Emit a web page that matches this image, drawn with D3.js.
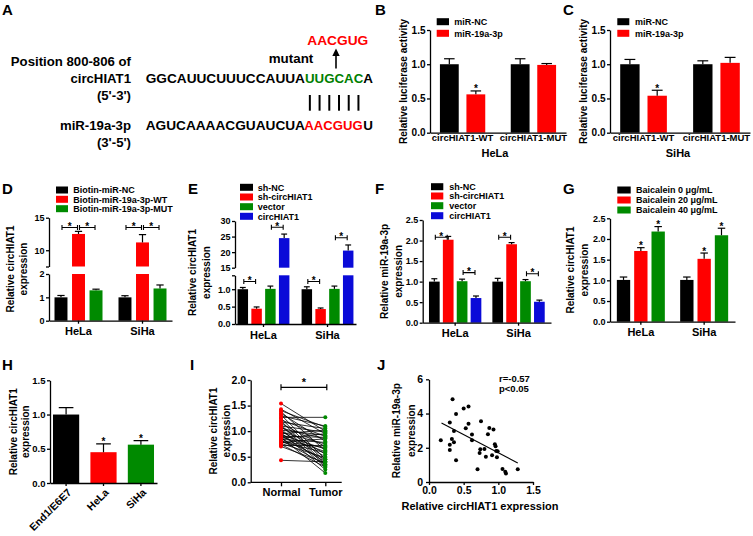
<!DOCTYPE html>
<html>
<head>
<meta charset="utf-8">
<script src="https://cdn.jsdelivr.net/npm/d3@7"></script>
<style>
body { margin: 0; background: #fff; }
svg { display: block; font-family: Arial, "Liberation Sans", sans-serif; font-weight: bold; }
</style>
</head>
<body>
<svg id="fig" width="753" height="536"></svg>
<script>
// ---- data ----
// A: binding site
var siteLabels = ["Position 800-806 of", "circHIAT1", "(5'-3')", "miR-19a-3p", "(3'-5')"];
var seqTop = ["GGCAUUCUUUCCAUUA", "UUGCAC", "A"];
var seqBottom = ["AGUCAAAACGUAUCUA", "AACGUG", "U"];
var mutSeq = "AACGUG";

// B, C: luciferase
var lucGroups = ["circHIAT1-WT", "circHIAT1-MUT"];
var lucSeries = ["miR-NC", "miR-19a-3p"];
var lucHela = [[1.00, 0.56], [1.00, 0.99]];
var lucHelaErr = [[0.08, 0.05], [0.08, 0.02]];
var lucSiha = [[1.00, 0.54], [1.00, 1.02]];
var lucSihaErr = [[0.07, 0.08], [0.05, 0.08]];
var lucTicks = [0, 0.5, 1.0, 1.5];
var lucStars = [[0, 1]];

// D: biotin pull-down
var cellLines = ["HeLa", "SiHa"];
var biotinSeries = ["Biotin-miR-NC", "Biotin-miR-19a-3p-WT", "Biotin-miR-19a-3p-MUT"];
var biotinVals = [[1.00, 12.5, 1.30], [1.00, 11.2, 1.38]];
var biotinErr = [[0.08, 0.4, 0.05], [0.07, 1.2, 0.15]];
var biotinTicksLow = [0, 1, 2];
var biotinTicksHigh = [10, 15];
var biotinBrackets = [[0, 0, 1, 13.5], [0, 1, 2, 13.5], [1, 0, 1, 13.5], [1, 1, 2, 13.5]];

// E: circHIAT1 knockdown / overexpression
var shSeries = ["sh-NC", "sh-circHIAT1", "vector", "circHIAT1"];
var circVals = [[1.00, 0.44, 1.01, 24.5], [1.00, 0.43, 1.01, 20.5]];
var circErr = [[0.05, 0.05, 0.08, 1.3], [0.07, 0.03, 0.08, 1.8]];
var circTicksLow = [0, 0.5, 1.0];
var circTicksHigh = [15, 20, 25, 30];
var circBrackets = [[0, 0, 1, 1.22], [0, 2, 3, 28], [1, 0, 1, 1.22], [1, 2, 3, 24.6]];

// F: miR-19a-3p
var mirVals = [[1.00, 2.02, 1.01, 0.60], [1.00, 1.91, 1.01, 0.51]];
var mirErr = [[0.07, 0.08, 0.05, 0.05], [0.08, 0.04, 0.04, 0.04]];
var mirTicks = [0, 0.5, 1.0, 1.5, 2.0, 2.5];
var mirBrackets = [[0, 0, 1, 2.08], [0, 2, 3, 1.22], [1, 0, 1, 2.08], [1, 2, 3, 1.19]];

// G: baicalein
var baiSeries = ["Baicalein 0 \u03bcg/mL", "Baicalein 20 \u03bcg/mL", "Baicalein 40 \u03bcg/mL"];
var baiVals = [[1.01, 1.71, 2.18], [1.01, 1.52, 2.09]];
var baiErr = [[0.07, 0.08, 0.12], [0.07, 0.14, 0.17]];
var baiTicks = [0, 0.5, 1.0, 1.5, 2.0, 2.5];
var baiStars = [[0, 1], [0, 2], [1, 1], [1, 2]];

// H: cell lines
var hCells = ["End1/E6E7", "HeLa", "SiHa"];
var hVals = [1.00, 0.45, 0.56];
var hErr = [0.10, 0.12, 0.06];
var hTicks = [0, 0.5, 1.0, 1.5];

// I: paired tissues
var tissue = ["Normal", "Tumor"];
var normalVals = [1.54, 1.43, 1.40, 1.38, 1.35, 1.32, 1.30, 1.27, 1.25, 1.22, 1.20, 1.18, 1.15, 1.12, 1.10,
  1.08, 1.06, 1.04, 1.02, 1.00, 0.98, 0.97, 0.95, 0.93, 0.92, 0.90, 0.89, 0.88, 0.86, 0.85,
  0.84, 0.82, 0.80, 0.79, 0.78, 0.76, 0.74, 0.72, 0.70, 0.43];
var tumorVals = [1.00, 0.95, 1.08, 0.62, 0.80, 0.45, 1.10, 1.27, 0.40, 0.90, 0.35, 1.05, 0.70, 0.33, 0.98,
  0.55, 0.85, 0.30, 0.92, 0.50, 0.75, 0.25, 1.02, 0.65, 0.40, 0.88, 0.60, 0.18, 0.95, 0.45,
  0.78, 0.35, 0.68, 0.58, 0.85, 0.48, 0.30, 0.72, 0.38, 0.40];
var iTicks = [0, 0.5, 1.0, 1.5, 2.0];

// J: correlation
var jX = [0.17, 0.30, 0.34, 0.39, 0.30, 0.30, 0.33, 0.36, 0.36, 0.39, 0.50, 0.57, 0.53, 0.57, 0.62, 0.62, 0.70, 0.75,
  0.73, 0.74, 0.80, 0.82, 0.85, 0.87, 0.91, 0.93, 0.95, 0.96, 0.97, 0.99, 0.98, 1.06, 1.10, 1.11, 1.28];
var jY = [2.44, 3.47, 4.83, 3.98, 2.18, 1.87, 2.51, 2.32, 2.98, 1.27, 4.29, 4.41, 3.14, 3.41, 2.77, 2.44, 0.74, 3.55,
  1.70, 1.91, 1.93, 1.48, 2.79, 3.16, 1.56, 3.06, 2.20, 2.09, 1.81, 1.80, 1.44, 0.76, 0.60, 0.49, 0.74];
var jFit = [[0.18, 3.45], [1.28, 1.11]];
var jXTicks = [0, 0.5, 1.0, 1.5];
var jYTicks = [0, 2, 4, 6];

// ---- drawing ----
var svg = d3.select("#fig");
var FONT = "Arial, 'Liberation Sans', sans-serif";
var RED = "#ff0000", GREEN = "#008a00", BLUE = "#0a0ad8", BLACK = "#000";
var f1 = d3.format(".1f");

function styleAxis(g, fs) {
  g.attr("font-family", FONT).attr("font-size", fs).attr("font-weight", "bold");
  g.selectAll("path, line").attr("stroke", "#000").attr("stroke-width", 1.3);
  g.selectAll("text").attr("fill", "#000");
}

function txt(x, y, s, fs, anchor, fill) {
  return svg.append("text").attr("x", x).attr("y", y).attr("font-size", fs)
    .attr("text-anchor", anchor || "start").attr("fill", fill || BLACK).text(s);
}

// rotated y label, one or two lines; xs are the column centres
function yLabel(lines, xs, cy, fs) {
  lines.forEach(function(l, i) {
    svg.append("text").attr("transform", "translate(" + (xs[i] + fs * 0.36) + "," + cy + ") rotate(-90)")
      .attr("text-anchor", "middle").attr("font-size", fs).text(l);
  });
}

function star(x, y, fs) {
  txt(x, y, "*", fs || 10, "middle");
}

function barPanel(o) {
  var g = svg.append("g");
  var x0 = d3.scaleBand().domain(o.groups).range(o.xRange)
    .paddingInner(o.pi0).paddingOuter(o.po0);
  var x1 = d3.scaleBand().domain(d3.range(o.series.length)).range([0, x0.bandwidth()])
    .paddingInner(o.pi1);
  var segs = o.segments.map(function(s) {
    return { domain: s.domain, ticks: s.ticks, y: d3.scaleLinear().domain(s.domain).range(s.range) };
  });
  function yOf(v) {
    for (var i = segs.length - 1; i >= 0; i--) if (v >= segs[i].domain[0]) return segs[i].y(v);
    return segs[0].y(v);
  }
  function cx(gi, si) { return x0(o.groups[gi]) + x1(si) + x1.bandwidth() / 2; }

  // bar pieces (one per axis segment)
  var pieces = [], bars = [];
  o.vals.forEach(function(row, gi) {
    row.forEach(function(v, si) {
      bars.push({ gi: gi, si: si, v: v, e: o.errs[gi][si] });
      segs.forEach(function(s) {
        if (v > s.domain[0]) pieces.push({ gi: gi, si: si, s: s, top: Math.min(v, s.domain[1]) });
      });
    });
  });
  g.selectAll("rect.bar").data(pieces).join("rect").attr("class", "bar")
    .attr("x", function(d) { return x0(o.groups[d.gi]) + x1(d.si); })
    .attr("width", x1.bandwidth())
    .attr("y", function(d) { return d.s.y(d.top); })
    .attr("height", function(d) { return d.s.y(d.s.domain[0]) - d.s.y(d.top); })
    .attr("fill", function(d) { return o.colors[d.si]; });

  // error bars
  var cap = x1.bandwidth() * 0.28;
  var eb = g.selectAll("g.err").data(bars).join("g").attr("class", "err")
    .attr("stroke", "#000").attr("stroke-width", 1.2);
  eb.append("line")
    .attr("x1", function(d) { return cx(d.gi, d.si); }).attr("x2", function(d) { return cx(d.gi, d.si); })
    .attr("y1", function(d) { return yOf(d.v); }).attr("y2", function(d) { return yOf(d.v + d.e); });
  eb.append("line")
    .attr("x1", function(d) { return cx(d.gi, d.si) - cap; }).attr("x2", function(d) { return cx(d.gi, d.si) + cap; })
    .attr("y1", function(d) { return yOf(d.v + d.e); }).attr("y2", function(d) { return yOf(d.v + d.e); });

  // y axis segments
  segs.forEach(function(s) {
    var all = s.ticks.concat(s.domain.filter(function(d) { return s.ticks.indexOf(d) < 0; }));
    var ax = g.append("g").attr("transform", "translate(" + o.xRange[0] + ",0)")
      .call(d3.axisLeft(s.y).tickValues(all)
        .tickFormat(function(d) { return s.ticks.indexOf(d) >= 0 ? o.yFmt(d) : ""; })
        .tickSize(3).tickSizeOuter(0).tickPadding(1.5));
    styleAxis(ax, o.yFs);
  });

  // x axis
  var base = segs[0].y(segs[0].domain[0]);
  var xa = g.append("g").attr("transform", "translate(0," + base + ")")
    .call(d3.axisBottom(x0).tickSize(o.xTick).tickSizeOuter(0).tickPadding(o.xPad));
  styleAxis(xa, o.xFs);

  // stars above bars
  (o.stars || []).forEach(function(st) {
    star(cx(st[0], st[1]), yOf(o.vals[st[0]][st[1]] + o.errs[st[0]][st[1]]) + 1.5, 10);
  });

  // significance brackets
  (o.brackets || []).forEach(function(b) {
    var xa1 = cx(b[0], b[1]) + 1, xa2 = cx(b[0], b[2]) - 1, yy = yOf(b[3]);
    var p = d3.path();
    p.moveTo(xa1, yy); p.lineTo(xa2, yy);
    p.moveTo(xa1, yy - 2.5); p.lineTo(xa1, yy + 2.5);
    p.moveTo(xa2, yy - 2.5); p.lineTo(xa2, yy + 2.5);
    g.append("path").attr("d", p.toString()).attr("stroke", "#000").attr("stroke-width", 1.1).attr("fill", "none");
    star((xa1 + xa2) / 2, yy + 2.5, 10);
  });

  // legend
  var L = o.legend;
  o.series.forEach(function(s, i) {
    var ry = L.rows[i];
    g.append("rect").attr("x", L.x).attr("y", ry - L.h / 2).attr("width", L.w).attr("height", L.h)
      .attr("fill", o.colors[i]);
    g.append("text").attr("x", L.tx).attr("y", ry + 3.2).attr("font-size", L.fs).text(s);
  });
  return { x0: x0, base: base };
}

// panel letters
[["A", 2, 15], ["B", 375, 15], ["C", 563, 15], ["D", 2, 194], ["E", 188, 194], ["F", 375, 194],
 ["G", 563, 194], ["H", 2, 370], ["I", 190, 370], ["J", 377, 370]].forEach(function(p) {
  txt(p[1], p[2], p[0], 15);
});

// ---- A ----
function fitText(x, y, w, s, fill) {
  svg.append("text").attr("x", x).attr("y", y).attr("font-size", 12)
    .attr("textLength", w).attr("lengthAdjust", "spacingAndGlyphs")
    .attr("fill", fill || BLACK).text(s);
}
var labelRows = [65.7, 82.7, 100, 130, 146.7];
siteLabels.forEach(function(s, i) { txt(131, labelRows[i], s, 13.2, "end"); });
var seqX = [145.7, 305, 363.3];
var seqW = [159.3, 58.3, 9.7];
seqTop.forEach(function(s, i) { fitText(seqX[i], 82.7, seqW[i], s, i === 1 ? "#008000" : BLACK); });
seqBottom.forEach(function(s, i) { fitText(seqX[i] - (i === 1 ? 0.7 : 0), 130, seqW[i], s, i === 1 ? RED : BLACK); });
fitText(268.7, 63.3, 44.6, "mutant");
fitText(307.3, 45, 61, mutSeq, RED);
// pairing lines
var pairX = d3.scaleBand().domain(d3.range(seqTop[1].length)).range([seqX[1], seqX[1] + seqW[1]]);
svg.append("g").selectAll("line").data(d3.range(seqTop[1].length)).join("line")
  .attr("x1", function(d) { return pairX(d) + pairX.bandwidth() / 2; })
  .attr("x2", function(d) { return pairX(d) + pairX.bandwidth() / 2; })
  .attr("y1", 95).attr("y2", 110.7).attr("stroke", "#000").attr("stroke-width", 2);
svg.append("line").attr("x1", 336).attr("x2", 336).attr("y1", 68.5).attr("y2", 54)
  .attr("stroke", "#000").attr("stroke-width", 1.6);
svg.append("path").attr("d", "M336,48.5L332.3,56L339.7,56Z").attr("fill", "#000");

// ---- B, C ----
barPanel({
  groups: lucGroups, series: lucSeries, vals: lucHela, errs: lucHelaErr, colors: [BLACK, RED],
  xRange: [430, 566], pi0: 0.36, po0: 0.14, pi1: 0.29,
  segments: [{ domain: [0, 1.5], range: [132.7, 30], ticks: lucTicks }],
  yFmt: f1, yFs: 10, xTick: 0, xPad: 1.5, xFs: 9.5,
  stars: lucStars,
  legend: { x: 436.7, w: 12.3, h: 7, tx: 454.3, rows: [21.7, 33.3], fs: 9 }
});
txt(495, 156.7, "HeLa", 11, "middle");
yLabel(["Relative luciferase activity"], [403.3], 81.4, 10);

barPanel({
  groups: lucGroups, series: lucSeries, vals: lucSiha, errs: lucSihaErr, colors: [BLACK, RED],
  xRange: [610, 750], pi0: 0.36, po0: 0.14, pi1: 0.29,
  segments: [{ domain: [0, 1.5], range: [132.7, 30], ticks: lucTicks }],
  yFmt: f1, yFs: 10, xTick: 0, xPad: 1.5, xFs: 9.5,
  stars: lucStars,
  legend: { x: 617.3, w: 12, h: 7, tx: 635, rows: [21.7, 33.3], fs: 9 }
});
txt(678, 156.7, "SiHa", 11, "middle");
yLabel(["Relative luciferase activity"], [583.3], 81.4, 10);

// ---- D ----
barPanel({
  groups: cellLines, series: biotinSeries, vals: biotinVals, errs: biotinErr, colors: [BLACK, RED, GREEN],
  xRange: [49, 172], pi0: 0.25, po0: 0.086, pi1: 0.26,
  segments: [{ domain: [0, 2], range: [320.7, 274], ticks: biotinTicksLow },
             { domain: [7.5, 15], range: [266.5, 217.7], ticks: biotinTicksHigh }],
  yFmt: d3.format("d"), yFs: 9, xTick: 3, xPad: 4, xFs: 11,
  brackets: biotinBrackets,
  legend: { x: 56, w: 12, h: 7, tx: 73.3, rows: [190, 199.3, 208.7], fs: 9 }
});
yLabel(["Relative circHIAT1", "expression"], [10, 23], 269, 10);

// ---- E ----
barPanel({
  groups: cellLines, series: shSeries, vals: circVals, errs: circErr, colors: [BLACK, RED, GREEN, BLUE],
  xRange: [235, 356], pi0: 0.19, po0: 0.04, pi1: 0.24,
  segments: [{ domain: [0, 1.4], range: [324, 275.3], ticks: circTicksLow },
             { domain: [15, 30], range: [267.7, 221], ticks: circTicksHigh }],
  yFmt: function(d) { return d < 5 ? f1(d) : d3.format("d")(d); }, yFs: 9, xTick: 3, xPad: 4, xFs: 11,
  brackets: circBrackets,
  legend: { x: 240, w: 13, h: 7, tx: 257.7, rows: [187.3, 197, 206.7, 216.3], fs: 9 }
});
yLabel(["Relative circHIAT1", "expression"], [192.5, 206], 272.5, 10);

// ---- F ----
barPanel({
  groups: cellLines, series: shSeries, vals: mirVals, errs: mirErr, colors: [BLACK, RED, GREEN, BLUE],
  xRange: [422.7, 551], pi0: 0.174, po0: 0.099, pi1: 0.23,
  segments: [{ domain: [0, 2.5], range: [322.7, 220], ticks: mirTicks }],
  yFmt: f1, yFs: 9, xTick: 3, xPad: 4, xFs: 11,
  brackets: mirBrackets,
  legend: { x: 431, w: 12.3, h: 7, tx: 449.3, rows: [186.7, 196, 205.7, 215.7], fs: 9 }
});
yLabel(["Relative miR-19a-3p", "expression"], [384, 398], 271.4, 10);

// ---- G ----
barPanel({
  groups: cellLines, series: baiSeries, vals: baiVals, errs: baiErr, colors: [BLACK, RED, GREEN],
  xRange: [610, 735], pi0: 0.242, po0: 0.108, pi1: 0.23,
  segments: [{ domain: [0, 2.5], range: [321.7, 218.3], ticks: baiTicks }],
  yFmt: f1, yFs: 9, xTick: 3, xPad: 4, xFs: 11,
  stars: baiStars,
  legend: { x: 617.3, w: 13.4, h: 7, tx: 636, rows: [190, 200, 210], fs: 9 }
});
yLabel(["Relative circHIAT1", "expression"], [570, 584], 270, 10);

// ---- H ----
(function() {
  var g = svg.append("g");
  var x = d3.scaleBand().domain(hCells).range([50, 157]).paddingInner(0.3).paddingOuter(0.08);
  var y = d3.scaleLinear().domain([0, 1.5]).range([483, 380.3]);
  var colors = [BLACK, RED, GREEN];
  g.selectAll("rect").data(hVals).join("rect")
    .attr("x", function(d, i) { return x(hCells[i]); }).attr("width", x.bandwidth())
    .attr("y", function(d) { return y(d); }).attr("height", function(d) { return y(0) - y(d); })
    .attr("fill", function(d, i) { return colors[i]; });
  var cap = x.bandwidth() * 0.28;
  hVals.forEach(function(v, i) {
    var c = x(hCells[i]) + x.bandwidth() / 2, t = y(v + hErr[i]);
    g.append("path").attr("d", "M" + c + "," + y(v) + "V" + t + "M" + (c - cap) + "," + t + "H" + (c + cap))
      .attr("stroke", "#000").attr("stroke-width", 1.2).attr("fill", "none");
    if (i > 0) star(c, t + 1.5, 10);
  });
  var ay = g.append("g").attr("transform", "translate(50,0)")
    .call(d3.axisLeft(y).tickValues(hTicks).tickFormat(f1).tickSize(3).tickSizeOuter(0).tickPadding(1.5));
  styleAxis(ay, 9.5);
  var ax = g.append("g").attr("transform", "translate(0,483)")
    .call(d3.axisBottom(x).tickSize(3).tickSizeOuter(0));
  styleAxis(ax, 10.5);
  ax.selectAll("text").attr("text-anchor", "end").attr("dy", null).attr("y", null)
    .attr("transform", "translate(6,10) rotate(-45)");
  yLabel(["Relative circHIAT1", "expression"], [13, 25.5], 431.7, 10);
})();

// ---- I ----
(function() {
  var g = svg.append("g");
  var x = d3.scalePoint().domain(tissue).range([281, 325.3]);
  var y = d3.scaleLinear().domain([0, 2]).range([482.3, 380]);
  g.selectAll("line.pair").data(normalVals).join("line").attr("class", "pair")
    .attr("x1", x("Normal")).attr("x2", x("Tumor"))
    .attr("y1", function(d) { return y(d); }).attr("y2", function(d, i) { return y(tumorVals[i]); })
    .attr("stroke", "#000").attr("stroke-width", 0.8);
  g.selectAll("circle.n").data(normalVals).join("circle").attr("class", "n")
    .attr("cx", x("Normal")).attr("cy", function(d) { return y(d); }).attr("r", 2).attr("fill", RED);
  g.selectAll("circle.t").data(tumorVals).join("circle").attr("class", "t")
    .attr("cx", x("Tumor")).attr("cy", function(d) { return y(d); }).attr("r", 2).attr("fill", GREEN);
  var ay = g.append("g").attr("transform", "translate(250.7,0)")
    .call(d3.axisLeft(y).tickValues(iTicks).tickFormat(f1).tickSize(3).tickSizeOuter(0).tickPadding(1.5));
  styleAxis(ay, 10.5);
  var ax = g.append("g").attr("transform", "translate(0,482.3)")
    .call(d3.axisBottom(x).tickSize(4).tickSizeOuter(0).tickPadding(1.6));
  ax.select(".domain").remove();
  styleAxis(ax, 11);
  g.append("line").attr("x1", 250.7).attr("x2", 341.7).attr("y1", 482.3).attr("y2", 482.3)
    .attr("stroke", "#000").attr("stroke-width", 1.3);
  var by = 387.3, bx1 = x("Normal"), bx2 = x("Tumor") + 1.5;
  g.append("path").attr("d", "M" + bx1 + "," + by + "H" + bx2 + "M" + bx1 + "," + (by - 3) + "V" + (by + 3) +
    "M" + bx2 + "," + (by - 3) + "V" + (by + 3)).attr("stroke", "#000").attr("stroke-width", 1.2).attr("fill", "none");
  star((bx1 + bx2) / 2, by - 1, 11);
  yLabel(["Relative circHIAT1", "expression"], [213.3, 226.7], 431, 10);
})();

// ---- J ----
(function() {
  var g = svg.append("g");
  var x = d3.scaleLinear().domain([0, 1.5]).range([429, 533]);
  var y = d3.scaleLinear().domain([0, 6]).range([482, 379.3]);
  g.selectAll("circle").data(jX).join("circle")
    .attr("cx", function(d) { return x(d); }).attr("cy", function(d, i) { return y(jY[i]); })
    .attr("r", 2).attr("fill", "#000");
  g.append("line").attr("x1", x(jFit[0][0])).attr("y1", y(jFit[0][1]))
    .attr("x2", x(jFit[1][0])).attr("y2", y(jFit[1][1])).attr("stroke", "#000").attr("stroke-width", 1.1);
  var ay = g.append("g").attr("transform", "translate(429,0)")
    .call(d3.axisLeft(y).tickValues(jYTicks).tickFormat(d3.format("d")).tickSize(3).tickSizeOuter(0).tickPadding(3));
  styleAxis(ay, 10.5);
  var ax = g.append("g").attr("transform", "translate(0,482)")
    .call(d3.axisBottom(x).tickValues(jXTicks).tickFormat(f1).tickSize(3).tickSizeOuter(0).tickPadding(1.5));
  styleAxis(ax, 10.5);
  txt(499, 382, "r=-0.57", 9.5);
  txt(499, 392, "p<0.05", 9.5);
  txt(480, 510, "Relative circHIAT1 expression", 11, "middle");
  yLabel(["Relative miR-19a-3p", "expression"], [396.7, 411.7], 430.7, 10);
})();
</script>
</body>
</html>
